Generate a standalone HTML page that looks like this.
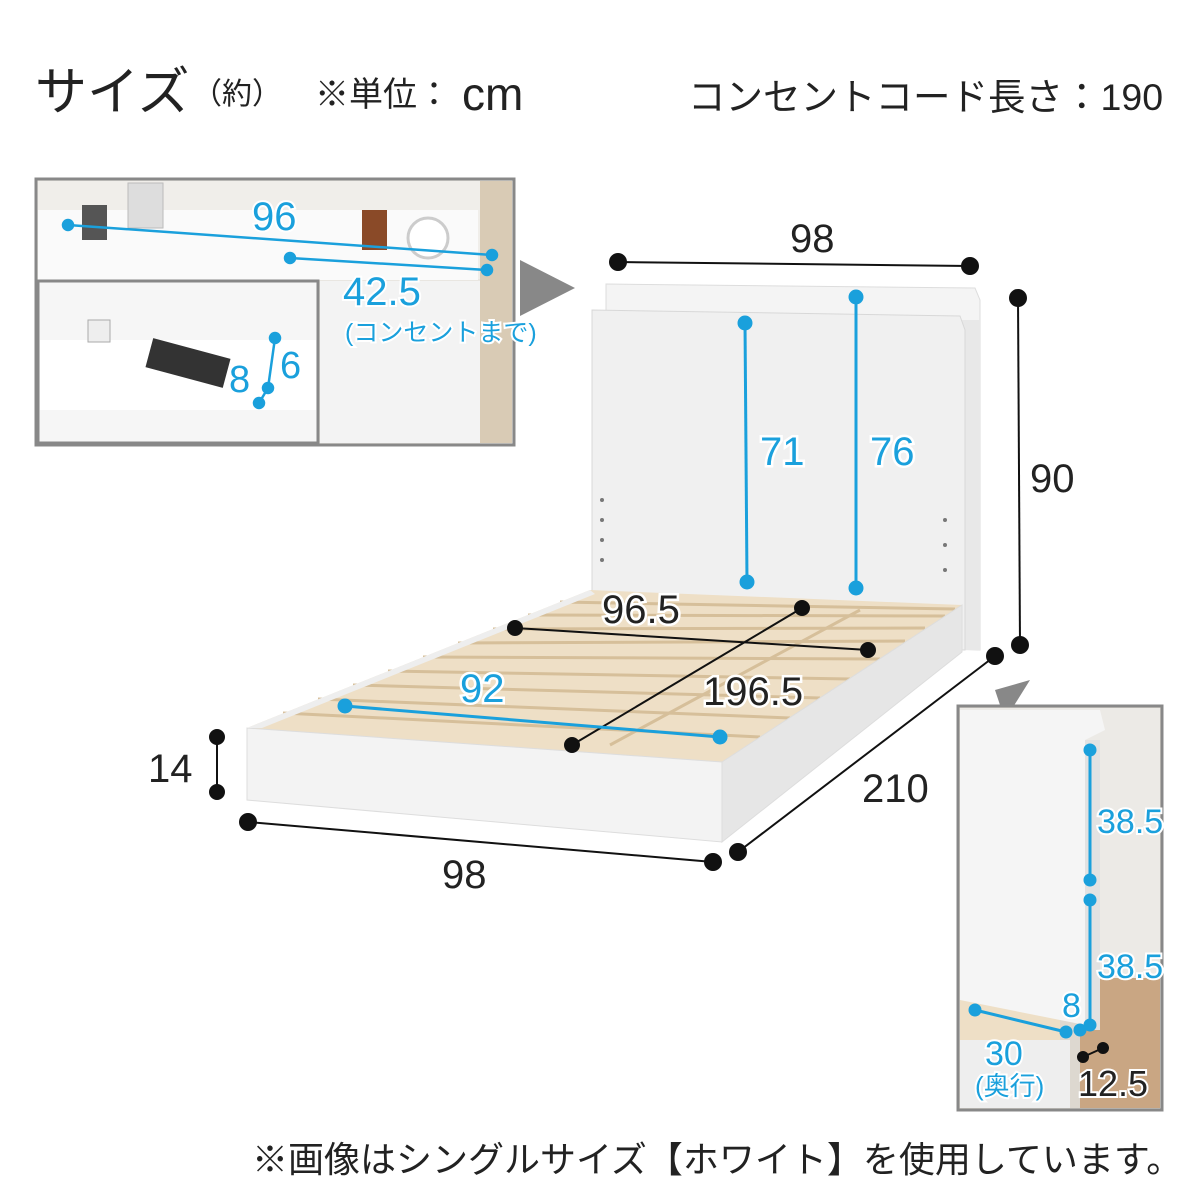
<!DOCTYPE html>
<html><head><meta charset="utf-8"><style>
body{margin:0;width:1200px;height:1200px;background:#fff;overflow:hidden;font-family:"Liberation Sans","Noto Sans CJK JP",sans-serif;}
svg{position:absolute;left:0;top:0}
</style></head><body>
<svg width="1200" height="1200" viewBox="0 0 1200 1200" font-family="Liberation Sans, Noto Sans CJK JP, sans-serif">
<!-- title -->
<text x="35" y="110" font-size="52" fill="#222">サイズ</text>
<text x="192" y="104" font-size="30" fill="#222">（約）</text>
<text x="315" y="106" font-size="34" fill="#222">※単位：</text>
<text x="462" y="110" font-size="46" fill="#222">cm</text>
<text x="688" y="110" font-size="37.5" fill="#222">コンセントコード長さ：190</text>

<!-- top-left inset -->
<rect x="36" y="179" width="478" height="266" fill="#e9e6e1" stroke="#888" stroke-width="3"/>
<rect x="38" y="181" width="474" height="98" fill="#f0eeea"/>
<rect x="480" y="181" width="32" height="262" fill="#d9cbb5"/>
<rect x="38" y="210" width="440" height="70" fill="#fafafa"/>
<rect x="128" y="183" width="35" height="45" fill="#ddd" stroke="#bbb"/>
<rect x="82" y="205" width="25" height="35" fill="#555"/>
<rect x="362" y="210" width="25" height="40" fill="#8a4a28"/>
<circle cx="428" cy="238" r="20" fill="#fff" stroke="#ccc" stroke-width="3"/>
<polygon points="520,260 575,288 520,316" fill="#888"/>
<rect x="38" y="281" width="280" height="162" fill="#f6f6f6" stroke="#888" stroke-width="3"/>
<rect x="320" y="281" width="160" height="162" fill="#f3f3f3"/>
<rect x="40" y="340" width="276" height="70" fill="#fff"/>
<rect x="148" y="348" width="80" height="30" fill="#333" transform="rotate(15 188 363)"/>
<rect x="88" y="320" width="22" height="22" fill="#eee" stroke="#aaa"/>
<g stroke="#1aa0dc" stroke-width="2.5" fill="#1aa0dc">
<line x1="68" y1="225" x2="492" y2="255"/>
<circle cx="68" cy="225" r="5"/><circle cx="492" cy="255" r="5"/>
<line x1="290" y1="258" x2="487" y2="270"/>
<circle cx="290" cy="258" r="5"/><circle cx="487" cy="270" r="5"/>
<line x1="275" y1="338" x2="268" y2="388"/><line x1="268" y1="388" x2="259" y2="403"/>
<circle cx="275" cy="338" r="5"/><circle cx="268" cy="388" r="5"/><circle cx="259" cy="403" r="5"/>
</g>
<g fill="#1aa0dc" stroke="#fff" stroke-width="4" paint-order="stroke">
<text x="252" y="230" font-size="40">96</text>
<text x="343" y="305" font-size="40">42.5</text>
<text x="345" y="341" font-size="25">(コンセントまで)</text>
<text x="229" y="392" font-size="38">8</text>
<text x="280" y="378" font-size="38">6</text>
</g>

<!-- bed headboard -->
<polygon points="606,284 975,288 980,300 980,650 606,640" fill="#f4f4f4" stroke="#ddd"/>
<rect x="962" y="320" width="18" height="330" fill="#e8e8e8"/>
<polygon points="592,310 960,316 965,330 965,650 592,640" fill="#f0f0f0" stroke="#d8d8d8"/>
<g fill="#777"><circle cx="602" cy="500" r="2"/><circle cx="602" cy="520" r="2"/><circle cx="602" cy="540" r="2"/><circle cx="602" cy="560" r="2"/>
<circle cx="945" cy="520" r="2"/><circle cx="945" cy="545" r="2"/><circle cx="945" cy="570" r="2"/></g>
<!-- base -->
<polygon points="247,728 590,590 962,605 722,762" fill="#eedfc6"/>
<g stroke="#d6bf9a" stroke-width="3">
<line x1="283" y1="713" x2="760" y2="737"/><line x1="318" y1="699" x2="790" y2="718"/>
<line x1="353" y1="685" x2="820" y2="698"/><line x1="388" y1="671" x2="850" y2="679"/>
<line x1="423" y1="657" x2="880" y2="659"/><line x1="458" y1="643" x2="905" y2="641"/>
<line x1="493" y1="629" x2="925" y2="628"/><line x1="528" y1="615" x2="945" y2="616"/>
<line x1="560" y1="602" x2="955" y2="609"/>
<line x1="610" y1="745" x2="860" y2="610"/>
</g>
<polygon points="247,728 722,762 722,842 247,800" fill="#f3f3f3" stroke="#ddd"/>
<polygon points="722,762 962,605 962,652 722,842" fill="#e6e6e6" stroke="#ddd"/>
<polygon points="247,728 590,590 595,594 262,728" fill="#eee"/>

<!-- black dims -->
<g stroke="#111" stroke-width="2" fill="#111">
<line x1="618" y1="262" x2="970" y2="266"/><circle cx="618" cy="262" r="8"/><circle cx="970" cy="266" r="8"/>
<line x1="1018" y1="298" x2="1020" y2="645"/><circle cx="1018" cy="298" r="8"/><circle cx="1020" cy="645" r="8"/>
<line x1="515" y1="628" x2="868" y2="650"/><circle cx="515" cy="628" r="7"/><circle cx="868" cy="650" r="7"/>
<line x1="802" y1="608" x2="572" y2="745"/><circle cx="802" cy="608" r="7"/><circle cx="572" cy="745" r="7"/>
<line x1="217" y1="737" x2="217" y2="792"/><circle cx="217" cy="737" r="7"/><circle cx="217" cy="792" r="7"/>
<line x1="248" y1="822" x2="713" y2="862"/><circle cx="248" cy="822" r="8"/><circle cx="713" cy="862" r="8"/>
<line x1="738" y1="852" x2="995" y2="656"/><circle cx="738" cy="852" r="8"/><circle cx="995" cy="656" r="8"/>
</g>
<g font-size="40" fill="#222" stroke="#fff" stroke-width="5" paint-order="stroke">
<text x="790" y="252">98</text>
<text x="1030" y="492">90</text>
<text x="602" y="623">96.5</text>
<text x="703" y="705">196.5</text>
<text x="148" y="782">14</text>
<text x="442" y="888">98</text>
<text x="862" y="802">210</text>
</g>
<g stroke="#1aa0dc" stroke-width="3" fill="#1aa0dc">
<line x1="745" y1="323" x2="747" y2="582"/><circle cx="745" cy="323" r="6"/><circle cx="747" cy="582" r="6"/>
<line x1="856" y1="297" x2="856" y2="588"/><circle cx="856" cy="297" r="6"/><circle cx="856" cy="588" r="6"/>
<line x1="345" y1="706" x2="720" y2="737"/><circle cx="345" cy="706" r="6"/><circle cx="720" cy="737" r="6"/>
</g>
<g font-size="40" fill="#1aa0dc" stroke="#fff" stroke-width="5" paint-order="stroke">
<text x="760" y="465">71</text><text x="870" y="465">76</text><text x="460" y="702">92</text>
</g>

<!-- right inset -->
<polygon points="995,690 1030,680 1005,720" fill="#888"/>
<rect x="958" y="706" width="204" height="404" fill="#ddd8d0" stroke="#888" stroke-width="3"/>
<rect x="960" y="708" width="200" height="270" fill="#eceae6"/>
<rect x="1080" y="978" width="80" height="130" fill="#c9a683"/>
<polygon points="960,975 1060,985 1060,1040 960,1045" fill="#eedfc6"/>
<polygon points="960,710 1100,710 1105,730 1085,740 1085,1025 1060,1020 960,1000" fill="#f5f5f5"/>
<rect x="1085" y="740" width="15" height="290" fill="#e2e2e2"/>
<rect x="960" y="1040" width="110" height="68" fill="#eeeeee"/>
<g stroke="#1aa0dc" stroke-width="3" fill="#1aa0dc">
<line x1="1090" y1="750" x2="1090" y2="880"/><circle cx="1090" cy="750" r="5"/><circle cx="1090" cy="880" r="5"/>
<line x1="1090" y1="900" x2="1090" y2="1025"/><circle cx="1090" cy="900" r="5"/><circle cx="1090" cy="1025" r="5"/>
<line x1="975" y1="1010" x2="1066" y2="1032"/><circle cx="975" cy="1010" r="5"/><circle cx="1066" cy="1032" r="5"/>
<circle cx="1080" cy="1030" r="5"/>
</g>
<g stroke="#111" stroke-width="2" fill="#111"><line x1="1083" y1="1057" x2="1103" y2="1048"/><circle cx="1083" cy="1057" r="5"/><circle cx="1103" cy="1048" r="5"/></g>
<g fill="#1aa0dc" stroke="#fff" stroke-width="4" paint-order="stroke">
<text x="1097" y="833" font-size="34">38.5</text>
<text x="1097" y="978" font-size="34">38.5</text>
<text x="1062" y="1017" font-size="34">8</text>
<text x="985" y="1065" font-size="34">30</text>
<text x="975" y="1095" font-size="26">(奥行)</text>
</g>
<text x="1078" y="1096" font-size="36" fill="#222" stroke="#fff" stroke-width="4" paint-order="stroke">12.5</text>

<text x="252" y="1172" font-size="36" fill="#222">※画像はシングルサイズ【ホワイト】を使用しています。</text>
</svg>
</body></html>
